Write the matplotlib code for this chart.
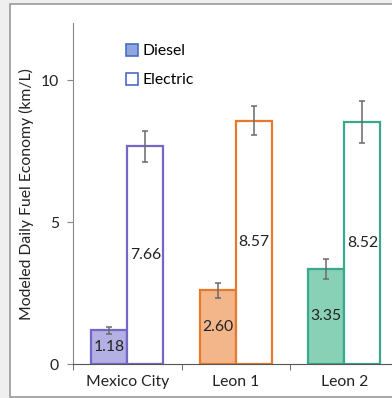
import matplotlib

matplotlib.use("Agg")
import matplotlib.pyplot as plt
from matplotlib.patches import Patch, Rectangle
import numpy as np


# Данные.
cities = ["Mexico City", "Leon 1", "Leon 2"]
diesel = [1.18, 2.60, 3.35]
electric = [7.66, 8.57, 8.52]
diesel_err = [0.12, 0.26, 0.35]
electric_err = [0.55, 0.50, 0.75]

edge_colors = ["#7467c5", "#e8782a", "#3aa98a"]
fill_colors = ["#b5b0e4", "#f2b68a", "#88d0b6"]

plt.rcParams["font.family"] = ["Lato", "DejaVu Sans"]
plt.rcParams["font.size"] = 11.3

fig = plt.figure(figsize=(3.92, 3.98), dpi=100)
fig.patch.set_facecolor("#efefef")

# Белая панель с серой рамкой, как на исходной картинке.
fig.patches.append(
    Rectangle((10 / 392, 1 / 398), 1.1, 393 / 398, transform=fig.transFigure,
              facecolor="white", edgecolor="#9a9a9a", linewidth=1.2, zorder=-5)
)

ax = fig.add_axes([73 / 392, 34 / 398, 325.5 / 392, 340.8 / 398])
ax.set_zorder(2)
ax.set_facecolor("none")

x = np.arange(len(cities))
w = 1 / 3

for i in range(len(cities)):
    xd = x[i] - w / 2
    xe = x[i] + w / 2
    ax.bar(xd, diesel[i], width=w, color=fill_colors[i], edgecolor=edge_colors[i], linewidth=1.6)
    ax.bar(xe, electric[i], width=w, color="white", edgecolor=edge_colors[i], linewidth=1.6)
    ax.errorbar([xd, xe], [diesel[i], electric[i]], yerr=[diesel_err[i], electric_err[i]],
                fmt="none", ecolor="#6a6a6a", elinewidth=1.1, capsize=2.5, capthick=1.1)
    # Подписи значений — посередине высоты столбца.
    ax.text(xd, diesel[i] / 2, f"{diesel[i]:.2f}", ha="center", va="center", color="#222222")
    ax.text(xe, electric[i] / 2, f"{electric[i]:.2f}", ha="center", va="center", color="#222222")

ax.set_xlim(-0.5, 2.5)
ax.set_ylim(0, 12)
ax.set_yticks([0, 5, 10])
ax.set_xticks(x)
ax.set_xticklabels(cities)
ax.set_xticks([-0.5, 0.5, 1.5, 2.5], minor=True)
ax.tick_params(axis="x", which="major", length=0, pad=8, labelcolor="#222222")
ax.tick_params(axis="x", which="minor", length=4, color="#555555")
ax.tick_params(axis="y", length=4, color="#888888", labelcolor="#222222", pad=6)

for side in ["top", "right"]:
    ax.spines[side].set_visible(False)
ax.spines["left"].set_color("#888888")
ax.spines["bottom"].set_color("#555555")

ax.set_ylabel("Modeled Daily Fuel Economy (km/L)", color="#222222", labelpad=5)

handles = [
    Patch(facecolor="#8fa6de", edgecolor="#4a6cc4", linewidth=1.2, label="Diesel"),
    Patch(facecolor="white", edgecolor="#4a6cc4", linewidth=1.2, label="Electric"),
]
ax.legend(handles=handles, loc="upper left", bbox_to_anchor=(0.12, 0.98), frameon=False,
          handlelength=0.75, handleheight=0.75, handletextpad=0.3, labelspacing=0.95,
          fontsize=11.3)

fig.savefig("out.png", dpi=100)
